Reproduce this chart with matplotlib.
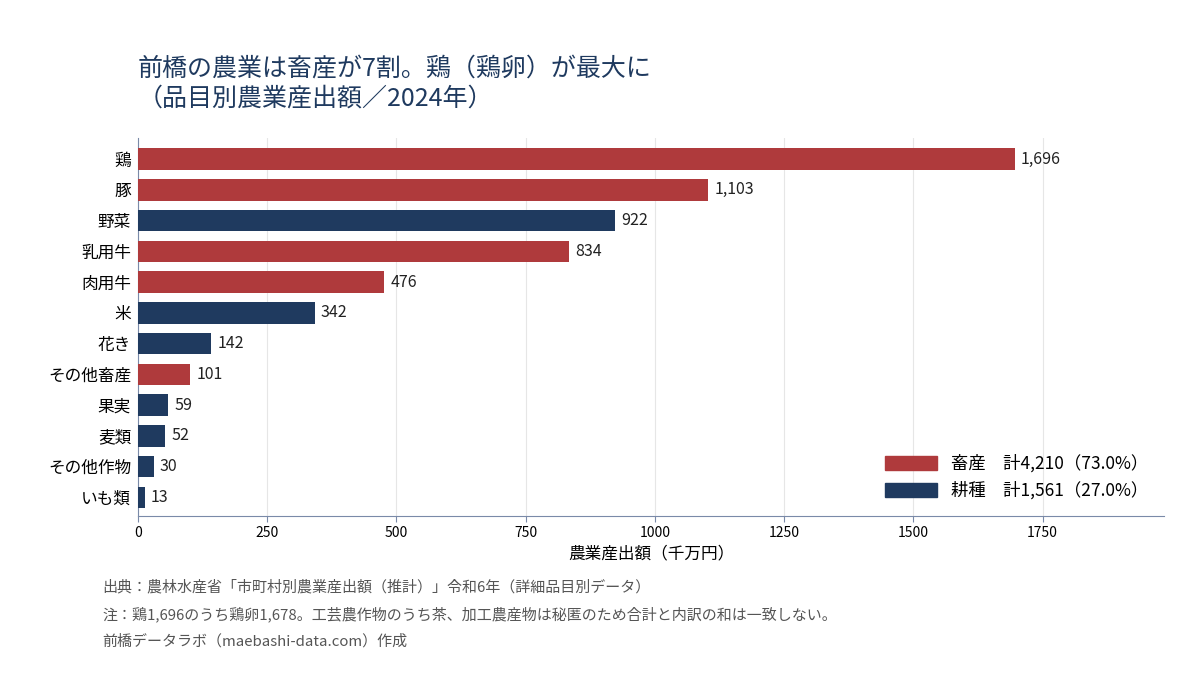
import matplotlib
matplotlib.use("Agg")
import matplotlib.pyplot as plt
from matplotlib.patches import Patch

plt.rcParams['font.family'] = ['Noto Sans CJK JP', 'DejaVu Sans']

items = ["鶏", "豚", "野菜", "乳用牛", "肉用牛", "米", "花き", "その他畜産", "果実", "麦類", "その他作物", "いも類"]
values = [1696, 1103, 922, 834, 476, 342, 142, 101, 59, 52, 30, 13]
groups = ["畜産", "畜産", "耕種", "畜産", "畜産", "耕種", "耕種", "畜産", "耕種", "耕種", "耕種", "耕種"]

RED = "#AF3A3C"
NAVY = "#1F3A5F"
colors = {"畜産": RED, "耕種": NAVY}

fig = plt.figure(figsize=(12, 6.75), dpi=100)
ax = fig.add_axes([0.115, 0.236, 0.855, 0.56])

ypos = list(range(len(items)))[::-1]
ax.barh(ypos, values, height=0.7, color=[colors[g] for g in groups], zorder=3)
for y, v in zip(ypos, values):
    ax.text(v + 12, y, f"{v:,}", va="center", ha="left", fontsize=11.5, color="#222222")

ax.set_yticks(ypos)
ax.set_yticklabels(items, fontsize=12)
ax.set_ylim(-0.6, len(items) - 0.3)
ax.set_xlim(0, 1985)
ax.set_xticks([0, 250, 500, 750, 1000, 1250, 1500, 1750])
ax.tick_params(axis="x", labelsize=10, length=4, color="#7a8aa8")
ax.tick_params(axis="y", length=0, pad=5)
ax.grid(axis="x", color="#e6e6e6", linewidth=0.8, zorder=0)
for s in ["top", "right"]:
    ax.spines[s].set_visible(False)
for s in ["left", "bottom"]:
    ax.spines[s].set_color("#7a8aa8")
ax.set_xlabel("農業産出額（千万円）", fontsize=12, labelpad=4)

handles = [Patch(color=RED), Patch(color=NAVY)]
labels = ["畜産　計4,210（73.0%）", "耕種　計1,561（27.0%）"]
ax.legend(handles, labels, loc="lower right", frameon=False, fontsize=12.5,
          handlelength=3.0, handleheight=0.9, borderaxespad=0.5)

fig.text(0.115, 0.835, "前橋の農業は畜産が7割。鶏（鶏卵）が最大に\n（品目別農業産出額／2024年）",
         fontsize=18, color="#1F3A5F", va="bottom", ha="left", linespacing=1.2)

notes = [
    "出典：農林水産省「市町村別農業産出額（推計）」令和6年（詳細品目別データ）",
    "注：鶏1,696のうち鶏卵1,678。工芸農作物のうち茶、加工農産物は秘匿のため合計と内訳の和は一致しない。",
    "前橋データラボ（maebashi-data.com）作成",
]
for i, n in enumerate(notes):
    fig.text(0.085, 0.13 - i * 0.04, n, fontsize=10.8, color="#555555", va="center")

fig.savefig("out.png", dpi=100)
